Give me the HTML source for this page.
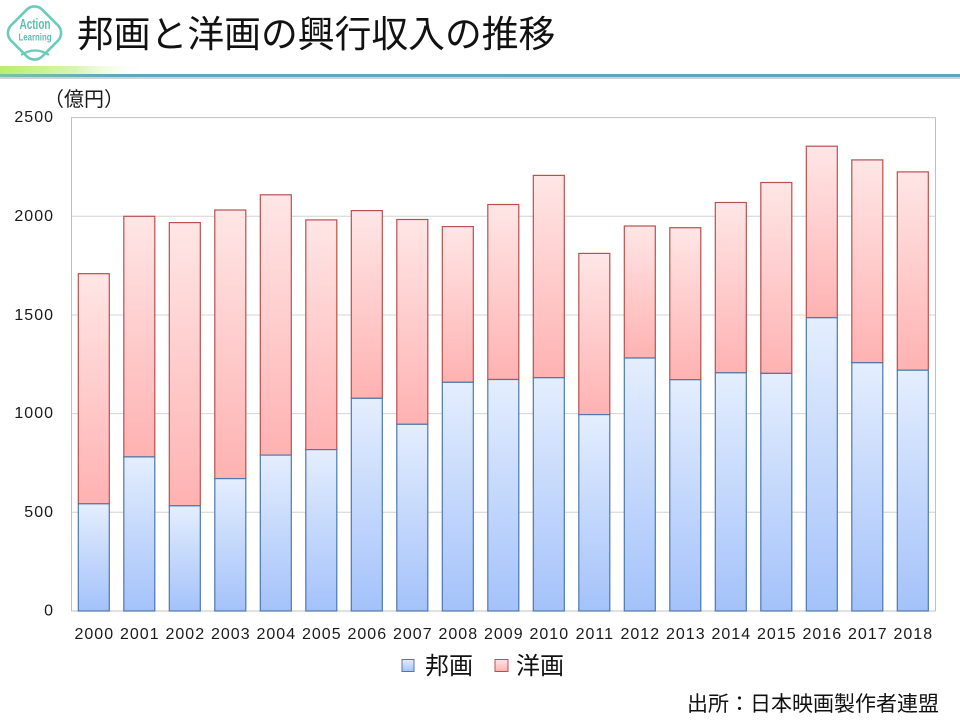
<!DOCTYPE html>
<html>
<head>
<meta charset="utf-8">
<style>
  html,body{margin:0;padding:0;background:#fff;}
  body{width:960px;height:720px;overflow:hidden;position:relative;}
  svg{display:block;}
  .jp{font-family:"Liberation Sans","Noto Sans CJK JP",sans-serif;}
  .num{font-family:"Liberation Sans","DejaVu Sans",sans-serif;font-size:16px;fill:#1a1a1a;letter-spacing:1px;}
</style>
</head>
<body>
<svg width="960" height="720" viewBox="0 0 960 720" xmlns="http://www.w3.org/2000/svg">
  <defs>
    <linearGradient id="gb" x1="0" y1="0" x2="0" y2="1">
      <stop offset="0" stop-color="#e4eefe"/>
      <stop offset="1" stop-color="#a4c2fa"/>
    </linearGradient>
    <linearGradient id="gr" x1="0" y1="0" x2="0" y2="1">
      <stop offset="0" stop-color="#ffe6e6"/>
      <stop offset="1" stop-color="#ffb2b2"/>
    </linearGradient>
    <linearGradient id="green" x1="0" y1="0" x2="1" y2="0">
      <stop offset="0" stop-color="#b8ee70"/>
      <stop offset="0.5" stop-color="#d8f6b0"/>
      <stop offset="1" stop-color="#ffffff" stop-opacity="0"/>
    </linearGradient>
    <linearGradient id="teal" x1="0" y1="0" x2="1" y2="0">
      <stop offset="0" stop-color="#7cc2a0"/>
      <stop offset="0.12" stop-color="#5ba9bf"/>
      <stop offset="1" stop-color="#5ba8be"/>
    </linearGradient>
  </defs>

  <!-- Header -->
  <g>
    <rect x="12.5" y="11" width="44" height="44" rx="11" ry="11" transform="rotate(45 34.5 33)" fill="#fff" stroke="#6ccabd" stroke-width="2.6"/>
    <text x="35" y="29" text-anchor="middle" font-family="Liberation Sans Narrow, Liberation Sans, sans-serif" font-size="15" font-weight="bold" fill="#5cbfb3" textLength="31" lengthAdjust="spacingAndGlyphs">Action</text>
    <text x="35" y="40.5" text-anchor="middle" font-family="Liberation Sans Narrow, Liberation Sans, sans-serif" font-size="10" font-weight="bold" fill="#5cbfb3" textLength="33" lengthAdjust="spacingAndGlyphs">Learning</text>
    <path d="M21,55 Q35,46 49,55" fill="none" stroke="#6ccabd" stroke-width="2.2"/>
  </g>
  <text x="77" y="47" class="jp" font-size="36.8" fill="#111">邦画と洋画の興行収入の推移</text>

  <rect x="0" y="66" width="150" height="8" fill="url(#green)"/>
  <rect x="0" y="74" width="960" height="3" fill="url(#teal)"/>
  <rect x="0" y="77" width="960" height="2" fill="#cfd3d6"/>

  <!-- Axis unit -->
  <text x="44" y="106" class="jp" font-size="20" fill="#1a1a1a">（億円）</text>

  <!-- Plot area -->
  <g stroke="#d4d4d4" stroke-width="1">
    <line x1="71.5" y1="216.3" x2="935.5" y2="216.3"/>
    <line x1="71.5" y1="315" x2="935.5" y2="315"/>
    <line x1="71.5" y1="413.6" x2="935.5" y2="413.6"/>
    <line x1="71.5" y1="512.3" x2="935.5" y2="512.3"/>
  </g>
  <rect x="71.5" y="117.6" width="864" height="493.4" fill="none" stroke="#c0c0c0" stroke-width="1"/>

  <!-- Y labels -->
  <g class="num" text-anchor="end">
    <text x="54" y="122">2500</text>
    <text x="54" y="221">2000</text>
    <text x="54" y="320">1500</text>
    <text x="54" y="418">1000</text>
    <text x="54" y="517">500</text>
    <text x="54" y="615.5">0</text>
  </g>

  <!-- Bars: 洋画 (top) -->
  <g fill="url(#gr)" stroke="#b9504e" stroke-width="1.2">
    <rect x="78.3" y="273.7" width="31" height="230.1"/>
    <rect x="123.8" y="216.3" width="31" height="240.6"/>
    <rect x="169.3" y="222.6" width="31" height="283.2"/>
    <rect x="214.8" y="210.0" width="31" height="268.6"/>
    <rect x="260.3" y="194.8" width="31" height="260.3"/>
    <rect x="305.8" y="219.9" width="31" height="229.7"/>
    <rect x="351.3" y="210.6" width="31" height="187.7"/>
    <rect x="396.8" y="219.5" width="31" height="204.8"/>
    <rect x="442.3" y="226.6" width="31" height="155.7"/>
    <rect x="487.8" y="204.5" width="31" height="175.0"/>
    <rect x="533.3" y="175.4" width="31" height="202.3"/>
    <rect x="578.8" y="253.4" width="31" height="161.2"/>
    <rect x="624.3" y="226.0" width="31" height="132.0"/>
    <rect x="669.8" y="227.7" width="31" height="152.0"/>
    <rect x="715.3" y="202.5" width="31" height="170.3"/>
    <rect x="760.8" y="182.5" width="31" height="190.9"/>
    <rect x="806.3" y="146.2" width="31" height="171.5"/>
    <rect x="851.8" y="159.9" width="31" height="202.8"/>
    <rect x="897.3" y="171.9" width="31" height="198.3"/>
  </g>

  <!-- Bars: 邦画 (bottom) -->
  <g fill="url(#gb)" stroke="#4c78ae" stroke-width="1.2">
    <rect x="78.3" y="503.8" width="31" height="107.2"/>
    <rect x="123.8" y="456.9" width="31" height="154.1"/>
    <rect x="169.3" y="505.8" width="31" height="105.2"/>
    <rect x="214.8" y="478.6" width="31" height="132.4"/>
    <rect x="260.3" y="455.1" width="31" height="155.9"/>
    <rect x="305.8" y="449.6" width="31" height="161.4"/>
    <rect x="351.3" y="398.3" width="31" height="212.7"/>
    <rect x="396.8" y="424.3" width="31" height="186.7"/>
    <rect x="442.3" y="382.3" width="31" height="228.7"/>
    <rect x="487.8" y="379.5" width="31" height="231.5"/>
    <rect x="533.3" y="377.7" width="31" height="233.3"/>
    <rect x="578.8" y="414.6" width="31" height="196.4"/>
    <rect x="624.3" y="358.0" width="31" height="253.0"/>
    <rect x="669.8" y="379.7" width="31" height="231.3"/>
    <rect x="715.3" y="372.8" width="31" height="238.2"/>
    <rect x="760.8" y="373.4" width="31" height="237.6"/>
    <rect x="806.3" y="317.7" width="31" height="293.3"/>
    <rect x="851.8" y="362.7" width="31" height="248.3"/>
    <rect x="897.3" y="370.2" width="31" height="240.8"/>
  </g>

  <!-- X labels -->
  <g class="num" text-anchor="middle">
    <text x="94.3" y="639">2000</text>
    <text x="139.8" y="639">2001</text>
    <text x="185.3" y="639">2002</text>
    <text x="230.8" y="639">2003</text>
    <text x="276.3" y="639">2004</text>
    <text x="321.8" y="639">2005</text>
    <text x="367.3" y="639">2006</text>
    <text x="412.8" y="639">2007</text>
    <text x="458.3" y="639">2008</text>
    <text x="503.8" y="639">2009</text>
    <text x="549.3" y="639">2010</text>
    <text x="594.8" y="639">2011</text>
    <text x="640.3" y="639">2012</text>
    <text x="685.8" y="639">2013</text>
    <text x="731.3" y="639">2014</text>
    <text x="776.8" y="639">2015</text>
    <text x="822.3" y="639">2016</text>
    <text x="867.8" y="639">2017</text>
    <text x="913.3" y="639">2018</text>
  </g>

  <!-- Legend -->
  <rect x="402" y="659.5" width="12" height="12" fill="url(#gb)" stroke="#4c78ae" stroke-width="1"/>
  <text x="425" y="674" class="jp" font-size="24" fill="#111">邦画</text>
  <rect x="495" y="659.5" width="13" height="12" fill="url(#gr)" stroke="#b9504e" stroke-width="1"/>
  <text x="516" y="674" class="jp" font-size="24" fill="#111">洋画</text>

  <!-- Source -->
  <text x="687" y="711" class="jp" font-size="21" fill="#111">出所：日本映画製作者連盟</text>
</svg>
</body>
</html>
